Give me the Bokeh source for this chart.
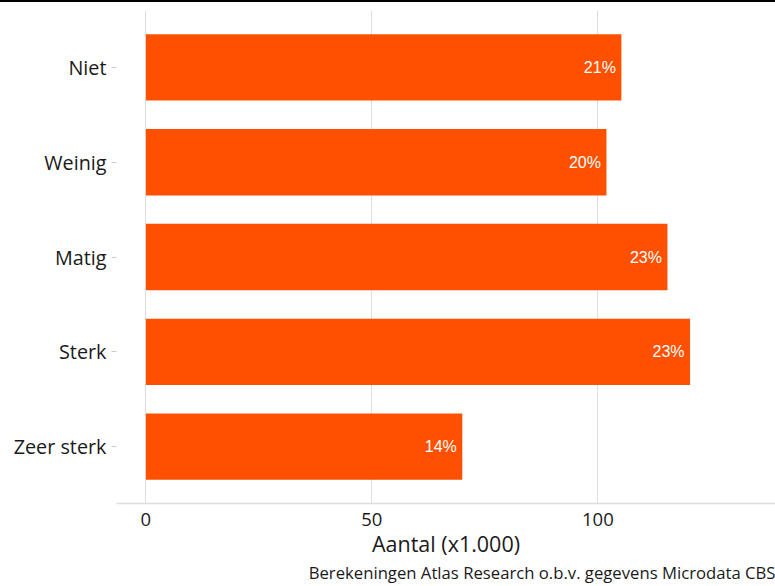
from bokeh.plotting import figure
from bokeh.models import Range1d, FixedTicker, ColumnDataSource, Title, LabelSet
from bokeh.core.properties import value
from bokeh.embed import file_html
from bokeh.resources import INLINE

categories = ["Niet", "Weinig", "Matig", "Sterk", "Zeer sterk"]
values = [105.2, 101.9, 115.4, 120.4, 70.0]
pct_labels = ["21%", "20%", "23%", "23%", "14%"]
x_ticks = [0, 50, 100]

ypos = list(range(1, len(categories) + 1))
src = ColumnDataSource(dict(y=ypos, v=values, lab=pct_labels, cat=categories))

p = figure(width=775, height=584, output_backend="svg", toolbar_location=None,
           x_range=Range1d(-6.5, 139.3), y_range=Range1d(len(categories) + 0.6, 0.4),
           min_border_left=116, min_border_right=0, min_border_top=8, min_border_bottom=82,
           styles={"border-top": "2px solid black"})

p.hbar(y="y", left=0, right="v", height=0.7, source=src, fill_color="#FF5000", line_color=None)

labels = LabelSet(x="v", y="y", text="lab", source=src, x_offset=-5.5, text_align="right",
                  text_baseline="middle", text_color="white",
                  text_font=value("Liberation Sans"), text_font_size="16px")
p.add_layout(labels)

p.outline_line_color = None
p.background_fill_color = "white"
p.border_fill_color = "white"
p.ygrid.grid_line_color = None
p.xgrid.grid_line_color = "#DEDEDE"
p.xgrid.grid_line_width = 1

p.xaxis.ticker = FixedTicker(ticks=x_ticks)
p.xaxis.axis_line_color = "#DEDEDE"
p.xaxis.axis_line_width = 1.5
p.xaxis.major_tick_line_color = None
p.xaxis.minor_tick_line_color = None
p.xaxis.major_tick_out = 0
p.xaxis.major_tick_in = 0
p.xaxis.major_label_text_font = "Open Sans"
p.xaxis.major_label_text_font_size = "18.5px"
p.xaxis.major_label_text_color = "#1a1a1a"
p.xaxis.major_label_standoff = 9
p.xaxis.axis_label = "Aantal (x1.000)"
p.xaxis.axis_label_text_font = "Open Sans"
p.xaxis.axis_label_text_font_size = "21.5px"
p.xaxis.axis_label_text_font_style = "normal"
p.xaxis.axis_label_text_color = "#1a1a1a"
p.xaxis.axis_label_standoff = 0

p.yaxis.ticker = FixedTicker(ticks=ypos)
p.yaxis.major_label_overrides = {y: c for y, c in zip(ypos, categories)}
p.yaxis.axis_line_color = None
p.yaxis.major_tick_line_color = "#CCCCCC"
p.yaxis.major_tick_out = 5
p.yaxis.major_tick_in = 0
p.yaxis.minor_tick_line_color = None
p.yaxis.major_label_text_font = "Open Sans"
p.yaxis.major_label_text_font_size = "19.8px"
p.yaxis.major_label_text_color = "#1a1a1a"
p.yaxis.major_label_standoff = 5

cap = Title(text="Berekeningen Atlas Research o.b.v. gegevens Microdata CBS", align="right",
            text_font="Open Sans", text_font_size="16.7px", text_font_style="normal",
            text_color="#1a1a1a", standoff=1, vertical_align="top")
p.add_layout(cap, "below")

open("out.html", "w").write(file_html(p, INLINE))
